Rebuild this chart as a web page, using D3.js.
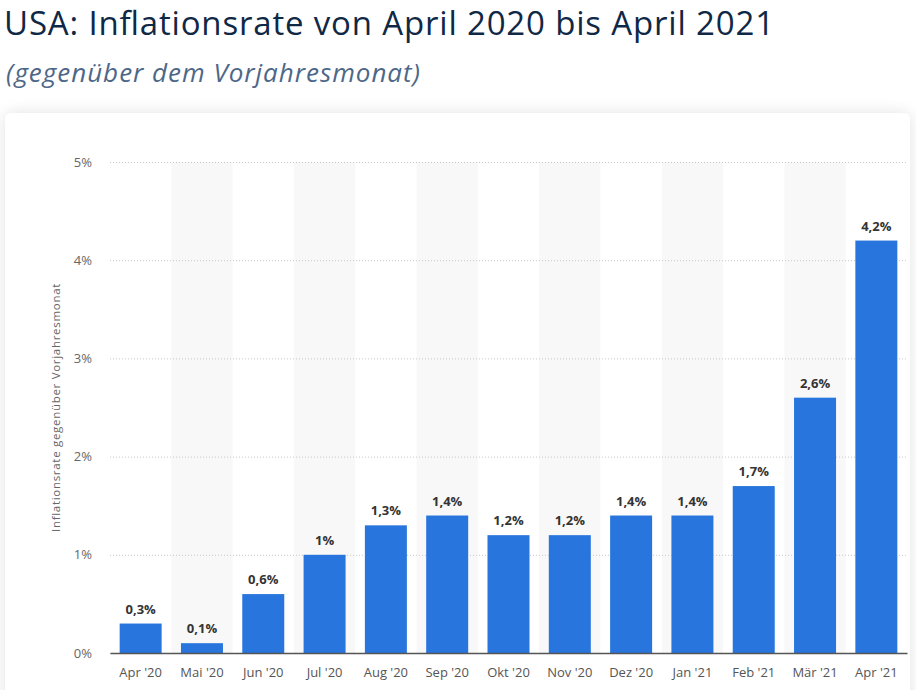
<!DOCTYPE html>
<html>
<head>
<meta charset="utf-8">
<script src="https://cdn.jsdelivr.net/npm/d3@7"></script>
<style>
body { margin: 0; background: #fff; font-family: "Open Sans", sans-serif; }
</style>
</head>
<body>
<script>
// chart data
const months = ["Apr '20", "Mai '20", "Jun '20", "Jul '20", "Aug '20", "Sep '20", "Okt '20", "Nov '20", "Dez '20", "Jan '21", "Feb '21", "Mär '21", "Apr '21"]
const rates = [0.3, 0.1, 0.6, 1, 1.3, 1.4, 1.2, 1.2, 1.4, 1.4, 1.7, 2.6, 4.2]
const yTicks = [0, 1, 2, 3, 4, 5]

const W = 916, H = 690
const plot = {left: 110, right: 907, top: 162, bottom: 653}

const svg = d3.select('body').append('svg')
	.attr('width', W)
	.attr('height', H)

// card shadow + card
const defs = svg.append('defs')
const blur = defs.append('filter').attr('id', 'shadow').attr('x', '-5%').attr('y', '-5%').attr('width', '110%').attr('height', '110%')
blur.append('feGaussianBlur').attr('in', 'SourceAlpha').attr('stdDeviation', 8)
blur.append('feComponentTransfer').append('feFuncA').attr('type', 'linear').attr('slope', 0.12)
const merge = blur.append('feMerge')
merge.append('feMergeNode')
merge.append('feMergeNode').attr('in', 'SourceGraphic')

svg.append('rect')
	.attr('x', 5).attr('y', 113)
	.attr('width', 905).attr('height', 600)
	.attr('rx', 6)
	.attr('fill', '#fff')
	.attr('filter', 'url(#shadow)')

//title
svg.append('text')
	.attr('x', 4).attr('y', 35)
	.attr('font-size', 33)
	.attr('font-weight', 500)
	.attr('fill', '#0f2846')
	.attr('textLength', 770)
	.attr('lengthAdjust', 'spacing')
	.text('USA: Inflationsrate von April 2020 bis April 2021')

svg.append('text')
	.attr('x', 6).attr('y', 82)
	.attr('font-size', 26)
	.attr('font-style', 'italic')
	.attr('fill', '#4d6788')
	.attr('textLength', 414)
	.attr('lengthAdjust', 'spacing')
	.text('(gegenüber dem Vorjahresmonat)')

//scales
const xScale = d3.scaleBand()
	.domain(months)
	.range([plot.left, plot.right])
	.paddingInner(0)
	.paddingOuter(0)

const yScale = d3.scaleLinear()
	.domain([0, 5])
	.range([plot.bottom, plot.top])

// alternating column stripes
svg.append('g').selectAll('rect')
	.data(months.filter((m, i) => i % 2 === 1))
	.enter()
	.append('rect')
	.attr('x', d => xScale(d))
	.attr('y', plot.top)
	.attr('width', xScale.bandwidth())
	.attr('height', plot.bottom - plot.top)
	.attr('fill', '#f8f8f8')

// y axis with dotted gridlines
const yAxis = svg.append('g')
	.attr('transform', `translate(${plot.left},0)`)
	.call(d3.axisLeft(yScale).tickValues(yTicks).tickSize(-(plot.right - plot.left)).tickFormat(d => d + '%'))
yAxis.select('.domain').remove()
yAxis.selectAll('.tick line')
	.attr('stroke', '#c8c8c8')
	.attr('stroke-dasharray', '1,2')
yAxis.selectAll('.tick text')
	.attr('x', -18)
	.attr('font-size', 13)
	.attr('font-family', 'Open Sans')
	.attr('fill', '#666')

svg.append('text')
	.attr('transform', `translate(60,${(plot.top + plot.bottom) / 2}) rotate(-90)`)
	.attr('text-anchor', 'middle')
	.attr('font-size', 11.5)
	.attr('letter-spacing', 0.7)
	.attr('fill', '#666')
	.text('Inflationsrate gegenüber Vorjahresmonat')

//bars
const barW = 42
svg.append('g').selectAll('rect')
	.data(rates)
	.enter()
	.append('rect')
	.attr('x', (d, i) => xScale(months[i]) + (xScale.bandwidth() - barW) / 2)
	.attr('y', d => yScale(d))
	.attr('width', barW)
	.attr('height', d => plot.bottom - yScale(d))
	.attr('fill', '#2876dd')

//value labels
svg.append('g').selectAll('text')
	.data(rates)
	.enter()
	.append('text')
	.attr('x', (d, i) => xScale(months[i]) + xScale.bandwidth() / 2)
	.attr('y', d => yScale(d) - 10)
	.attr('text-anchor', 'middle')
	.attr('font-size', 13)
	.attr('font-weight', 'bold')
	.attr('fill', '#333')
	.text(d => String(d).replace('.', ',') + '%')

// x axis
const xAxis = svg.append('g')
	.attr('transform', `translate(0,${plot.bottom})`)
	.call(d3.axisBottom(xScale).tickSize(0).tickPadding(15))
xAxis.select('.domain')
	.attr('stroke', '#555')
	.attr('stroke-width', 1.5)
xAxis.selectAll('.tick text')
	.attr('font-size', 13)
	.attr('font-family', 'Open Sans')
	.attr('fill', '#555')
</script>
</body>
</html>
